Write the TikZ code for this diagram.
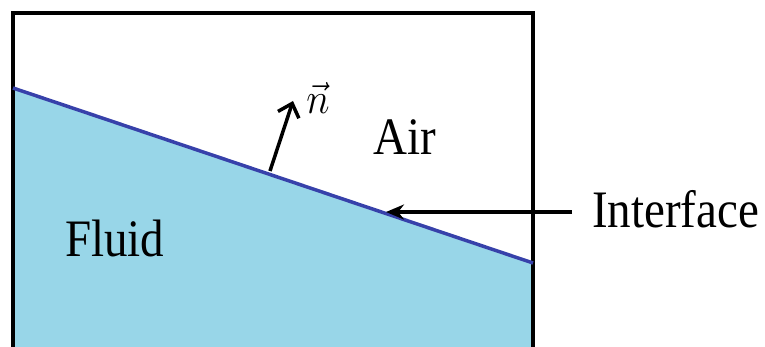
\documentclass[tikz,border=0pt]{standalone}
\usepackage{fontspec}
\setmainfont{Liberation Serif}
\usetikzlibrary{arrows.meta}
\definecolor{fluidblue}{RGB}{152,214,232}
\definecolor{ifaceblue}{RGB}{55,65,170}
\tikzset{
  lbl/.style={font=\fontsize{47}{50}\selectfont, inner sep=0pt, anchor=base west},
  boxline/.style={line width=4.5pt, black},
  conn/.style={line width=3.5pt, black}
}
\newcommand{\tallt}[1]{\scalebox{1}[1.12]{#1}}
\begin{document}
\begin{tikzpicture}[x=1pt,y=-1pt]
\useasboundingbox (0,0) rectangle (765,347);
% fluid region
\fill[fluidblue] (13,88) -- (533,263) -- (533,350) -- (13,350) -- cycle;
% box
\draw[boxline] (13,352) -- (13,13) -- (533,13) -- (533,352);
% interface line
\coordinate (iL) at (13,88);
\coordinate (iR) at (533,263);
\draw[ifaceblue, line width=3.5pt] (iL) -- (iR);
% normal vector
\coordinate (nTail) at (270,171);
\coordinate (nHead) at (293,101);
\draw[conn, -{Straight Barb[length=12pt,width=22pt,line width=3.5pt]}] (nTail) -- (nHead);
\node[inner sep=0pt] (nlab) at (318,98) {\scalebox{1.6}[1.75]{\Huge$\vec{n}$}};
% labels
\node[lbl] (air) at (373,155) {\tallt{Air}};
\node[lbl] (fluid) at (65,257) {\tallt{Fluid}};
\node[lbl] (iface) at (592,228) {\tallt{Interface}};
\coordinate (iPt) at (386,212);
\coordinate (iStart) at (572,212);
\draw[conn, -{Stealth[length=18pt,width=15pt]}] (iStart) -- (iPt);
\end{tikzpicture}
\end{document}
